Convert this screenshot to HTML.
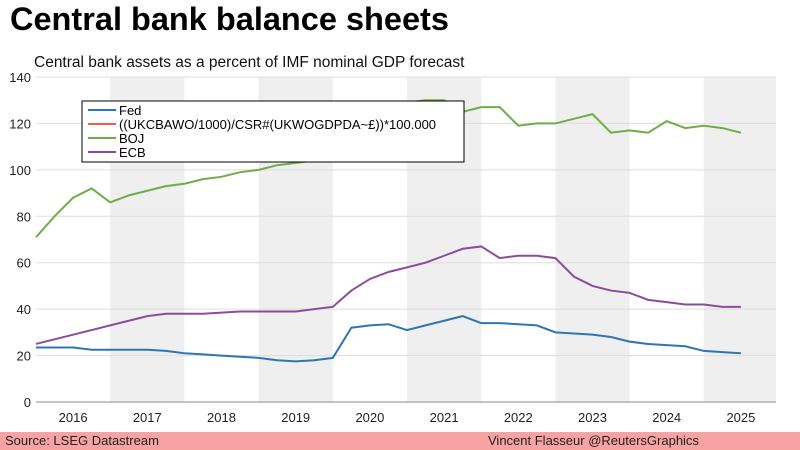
<!DOCTYPE html>
<html><head><meta charset="utf-8"><style>
body{margin:0;width:800px;height:450px;background:#fff;font-family:"Liberation Sans",sans-serif;overflow:hidden;position:relative}
#title{position:absolute;left:10px;top:1px;font-size:32.5px;font-weight:bold;color:#000}
#sub{position:absolute;left:34px;top:54px;font-size:15.5px;color:#111}
#foot{position:absolute;left:0;top:432px;width:800px;height:18px;background:#f8a3a3;font-size:13px;color:#222}
</style></head><body>
<div id="title">Central bank balance sheets</div>
<div id="sub">Central bank assets as a percent of IMF nominal GDP forecast</div>
<svg id="chart" width="800" height="450" style="position:absolute;left:0;top:0"></svg>
<div id="foot"><span style="position:absolute;left:5px;top:1px">Source: LSEG Datastream</span><span style="position:absolute;left:488px;top:1px">Vincent Flasseur @ReutersGraphics</span></div>
<script>
const dates=[2016,2016.25,2016.5,2016.75,2017,2017.25,2017.5,2017.75,2018,2018.25,2018.5,2018.75,2019,2019.25,2019.5,2019.75,2020,2020.25,2020.5,2020.75,2021,2021.25,2021.5,2021.75,2022,2022.25,2022.5,2022.75,2023,2023.25,2023.5,2023.75,2024,2024.25,2024.5,2024.75,2025,2025.25,2025.5];
const fed=[23.5,23.5,23.5,22.5,22.5,22.5,22.5,22,21,20.5,20,19.5,19,18,17.5,18,19,32,33,33.5,31,33,35,37,34,34,33.5,33,30,29.5,29,28,26,25,24.5,24,22,21.5,21];
const boj=[71,80,88,92,86,89,91,93,94,96,97,99,100,102,103,104,106,118,124,129,129,130,130,125,127,127,119,120,120,122,124,116,117,116,121,118,119,118,116];
const ecb=[25,27,29,31,33,35,37,38,38,38,38.5,39,39,39,39,40,41,48,53,56,58,60,63,66,67,62,63,63,62,54,50,48,47,44,43,42,42,41,41];
const yTicks=[0,20,40,60,80,100,120,140];
const years=[2016,2017,2018,2019,2020,2021,2022,2023,2024,2025];
const legendLabels=["Fed","((UKCBAWO/1000)/CSR#(UKWOGDPDA~£))*100.000","BOJ","ECB"];
const legendColors=["#2e75b6","#f0604a","#70ad47","#8e4b9e"];
const NS="http://www.w3.org/2000/svg",svg=document.getElementById('chart');
const X0=36,X1=776,Y0=402,Y1=77;
const xs=t=>X0+(t-2016)*74.2, ys=v=>Y0-(v/140)*(Y0-Y1);
function mk(tag,a,p){const e=document.createElementNS(NS,tag);for(const k in a)e.setAttribute(k,a[k]);(p||svg).appendChild(e);return e;}
years.forEach((y,i)=>{if(i%2===1){const r=mk('rect',{x:xs(y),y:Y1,width:Math.min(74.2,X1-xs(y)),height:Y0-Y1,fill:'#efefef'});

}});
yTicks.forEach(v=>{const l=mk('line',{x1:X0,x2:X1,y1:ys(v),y2:ys(v),stroke:v===0?'#888':'#ddd','stroke-width':1});


const t=mk('text',{x:X0-5,y:ys(v)+5,'text-anchor':'end','font-size':13,fill:'#222'});t.textContent=v;

});
years.forEach(y=>{const t=mk('text',{x:xs(y+0.5),y:Y0+20,'text-anchor':'middle','font-size':13,fill:'#222'});t.textContent=y;

});
[[fed,legendColors[0],'fed-line'],[boj,legendColors[2],'boj-line'],[ecb,legendColors[3],'ecb-line']].forEach(([d,c,n])=>{
const p=mk('polyline',{points:d.map((v,i)=>xs(dates[i])+','+ys(v)).join(' '),fill:'none',stroke:c,'stroke-width':2});

});
const lg=mk('g',{});


mk('rect',{x:82,y:101,width:382,height:61,fill:'#fff',stroke:'#000','stroke-width':1},lg);
legendLabels.forEach((s,i)=>{const yy=110+i*14;
mk('line',{x1:88,x2:116,y1:yy,y2:yy,stroke:legendColors[i],'stroke-width':2},lg);
const t=mk('text',{x:119,y:yy+5,'font-size':13,fill:'#000'},lg);t.textContent=s;

});
</script>
</body></html>
